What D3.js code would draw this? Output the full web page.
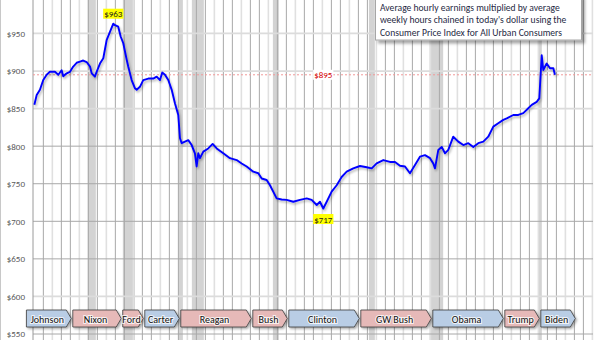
<!DOCTYPE html>
<html><head><meta charset="utf-8">
<script src="https://cdn.jsdelivr.net/npm/d3@7"></script>
<style>
html,body{margin:0;padding:0;background:#fff;}
svg{display:block;font-family:Carlito,Lato,"Liberation Sans",sans-serif;}
</style></head><body>
<svg id="chart" width="600" height="340"></svg>
<script>
// Real average weekly earnings (today's dollars), production & nonsupervisory workers
const years = [1964.0,1964.26,1964.62,1964.99,1965.37,1965.73,1966.29,1966.66,1967.03,1967.21,1967.59,1967.96,1968.32,1968.7,1969.07,1969.43,1969.81,1970.18,1970.37,1970.73,1970.92,1971.29,1971.66,1972.03,1972.4,1972.77,1972.96,1973.32,1973.59,1973.88,1974.26,1974.43,1974.81,1975.18,1975.37,1975.73,1976.1,1976.66,1977.21,1977.59,1977.96,1978.21,1978.51,1978.88,1979.26,1979.62,1979.99,1980.18,1980.37,1980.73,1981.1,1981.48,1981.84,1982.03,1982.21,1982.4,1982.77,1983.32,1983.81,1984.26,1984.99,1985.73,1986.48,1987.03,1987.59,1988.32,1988.88,1989.26,1989.81,1990.18,1990.54,1990.92,1991.48,1992.03,1992.77,1993.51,1994.26,1994.81,1995.37,1995.73,1996.1,1996.48,1997.03,1997.59,1998.14,1998.7,1999.43,2000.18,2000.92,2001.48,2002.03,2002.77,2003.51,2004.07,2004.62,2005.18,2005.73,2006.29,2006.84,2007.4,2007.96,2008.32,2008.51,2008.88,2009.26,2009.62,2009.99,2010.54,2011.1,2011.66,2012.21,2012.77,2013.32,2013.88,2014.43,2014.99,2015.54,2016.1,2016.48,2017.21,2017.77,2018.32,2018.88,2019.26,2019.81,2020.1,2020.37,2020.54,2020.92,2021.29,2021.66,2021.84];
const earnings = [855,868,875,888,895,899,899,895,901,893,897,899,906,911,912.5,914,912,906,897,892.5,899,910,917,941,952,963,961,959,946,937,915,906,888,877,875,879,888,890,890,892.5,888,898,895,888,875,857,841.5,810.5,804,806,808,801.5,790.5,773,790.5,784,792.7,797,803,797,790.5,784,781.5,777,773,766,764,757,755,748,739.5,730.5,729,728.5,726,728.5,730.5,728.5,721.7,726,717,726,739.5,748,759,766,770.5,773.6,772,770.5,777,781.5,779,779,774,773,764,775,786,788,784,777,770.5,795,799,790.5,795,812.6,806,801.5,804,799,804,806,812.6,826,830.5,835,837,841.5,841.5,844,850.5,855,859,863.6,921,901.4,910,903.7,903.7,895];

const yTicks = [550,600,650,700,750,800,850,900,950];
const gridYears = d3.range(1965, 2027);

// NBER recessions (start, end)
const recessionStart = [1969.92,1973.83,1980.0,1981.5,1990.5,2001.17,2007.92,2020.04];
const recessionEnd   = [1970.83,1975.17,1980.5,1982.83,1991.17,2001.83,2009.42,2020.38];

// Presidential terms
const presidents = ["Johnson","Nixon","Ford","Carter","Reagan","Bush","Clinton","GW Bush","Obama","Trump","Biden"];
const termStart = [1963.9,1969.05,1974.6,1977.05,1981.05,1989.05,1993.05,2001.05,2009.05,2017.05,2021.05];
const termEnd   = [1969.05,1974.6,1977.05,1981.05,1989.05,1993.05,2001.05,2009.05,2017.05,2021.05,2025.05];
const party     = ["D","R","R","D","R","R","D","R","D","R","D"];

const noteLines = [
  "Average hourly earnings multiplied by average",
  "weekly hours chained in today's dollar using the",
  "Consumer Price Index for All Urban Consumers"
];

const svg = d3.select("#chart");
const W = 600, H = 340;
const x = d3.scaleLinear().domain([1963.85, 2026]).range([33, 592.4]);
const y = d3.scaleLinear().domain([550, 1000]).range([334, -4.1]);

const defs = svg.append("defs");
function shadow(id, dx, dy, sd, op) {
  const f = defs.append("filter").attr("id", id).attr("x", "-20%").attr("y", "-20%").attr("width", "140%").attr("height", "160%");
  f.append("feDropShadow").attr("dx", dx).attr("dy", dy).attr("stdDeviation", sd)
    .attr("flood-color", "#000").attr("flood-opacity", op);
}
shadow("lineShadow", 1.2, 1.8, 1, 0.3);
shadow("barShadow", 1.5, 1.5, 0.8, 0.35);
shadow("boxShadow", 3, 3, 1.5, 0.35);

svg.append("rect").attr("width", W).attr("height", H).attr("fill", "#fff");

// recession bands
svg.append("g").selectAll("rect").data(recessionStart).join("rect")
  .attr("x", (d) => x(d))
  .attr("width", (d, i) => x(recessionEnd[i]) - x(d))
  .attr("y", 0).attr("height", H)
  .attr("fill", "#d3d3d3");

// yearly gridlines
svg.append("g").selectAll("line").data(gridYears).join("line")
  .attr("x1", d => x(d)).attr("x2", d => x(d))
  .attr("y1", 0).attr("y2", H)
  .attr("stroke", d => d % 3 === 1 ? "#e0e0e0" : "#a8a8a8")
  .attr("stroke-width", d => d % 3 === 1 ? 1.6 : 1);

// horizontal gridlines
const lightRows = new Set([600, 850, 900, 950]);
svg.append("g").selectAll("line").data(yTicks).join("line")
  .attr("x1", 33).attr("x2", 593)
  .attr("y1", d => y(d)).attr("y2", d => y(d))
  .attr("stroke", d => lightRows.has(d) ? "#dcdcdc" : "#a8a8a8")
  .attr("stroke-width", d => lightRows.has(d) ? 1.8 : 1);

// left axis with dollar labels
const yAxis = svg.append("g").attr("transform", "translate(33,0)")
  .call(d3.axisLeft(y).tickValues(yTicks).tickSize(0).tickPadding(8).tickFormat(d => "$" + d));
yAxis.select(".domain").attr("stroke", "#9a9a9a").attr("d", `M0,0V${H}`);
yAxis.selectAll("text").attr("font-size", 9).attr("fill", "#595959")
  .attr("font-family", "Carlito,Lato,sans-serif");
svg.append("line").attr("x1", 0.5).attr("x2", 0.5).attr("y1", 0).attr("y2", H).attr("stroke", "#c8c8c8");

// latest value reference line
const last = earnings[earnings.length - 1];
svg.append("line").attr("x1", 33).attr("x2", 593)
  .attr("y1", y(last)).attr("y2", y(last))
  .attr("stroke", "#f19a9a").attr("stroke-width", 1).attr("stroke-dasharray", "2,2");

// earnings line
const series = years.map((t, i) => [t, earnings[i]]);
svg.append("path").datum(series)
  .attr("d", d3.line().x(d => x(d[0])).y(d => y(d[1])))
  .attr("fill", "none").attr("stroke", "#0000ff").attr("stroke-width", 1.9)
  .attr("stroke-linejoin", "round")
  .attr("filter", "url(#lineShadow)");

// value labels
const iMax = d3.maxIndex(earnings), iMin = d3.minIndex(earnings);
function tag(cx, cy, label, bg, color) {
  const g = svg.append("g");
  const t = g.append("text").attr("x", cx).attr("y", cy).attr("text-anchor", "middle")
    .attr("dominant-baseline", "central").attr("font-size", 9).attr("fill", color).text(label);
  const w = t.node().getComputedTextLength();
  g.insert("rect", "text").attr("x", cx - w / 2 - 1).attr("y", cy - 5).attr("width", w + 2).attr("height", 10).attr("fill", bg);
}
tag(x(years[iMax]), y(earnings[iMax]) - 10, "$" + earnings[iMax], "#ffff00", "#1a1a1a");
tag(x(years[iMin]), y(earnings[iMin]) + 10.5, "$" + earnings[iMin], "#ffff00", "#1a1a1a");
tag(x(years[iMin]), y(last), "$" + last, "#ffffff", "#d40000");

// presidential term arrows
const shift = -0.78, bh = 17, by = 310, tip = 5;
const terms = svg.append("g");
presidents.forEach((name, i) => {
  const x0 = x(termStart[i] + shift), x1 = x(termEnd[i] + shift) - 1.5;
  terms.append("path")
    .attr("d", `M${x0},${by}H${x1 - tip}L${x1},${by + bh / 2}L${x1 - tip},${by + bh}H${x0}Z`)
    .attr("fill", party[i] === "D" ? "#b9cde5" : "#e6b9b8")
    .attr("stroke", "#3a3a3a").attr("stroke-width", 0.8)
    .attr("filter", "url(#barShadow)");
  terms.append("text").attr("x", (x0 + x1 - tip) / 2 + 1).attr("y", by + bh / 2 + 0.5)
    .attr("text-anchor", "middle").attr("dominant-baseline", "central")
    .attr("font-size", 10).attr("fill", "#111")
    .attr("stroke", "#fff").attr("stroke-width", 2.2).attr("stroke-opacity", 0.75)
    .attr("paint-order", "stroke")
    .text(name);
});

// note box
const note = svg.append("g");
note.append("rect").attr("x", 375.5).attr("y", -5).attr("width", 206).attr("height", 45)
  .attr("fill", "#fff").attr("stroke", "#a6a6a6").attr("filter", "url(#boxShadow)");
note.selectAll("text").data(noteLines).join("text")
  .attr("x", 380).attr("y", (d, i) => 11 + i * 12.4)
  .attr("font-size", 9.6).attr("fill", "#1f2a44").text(d => d);
</script>
</body></html>
